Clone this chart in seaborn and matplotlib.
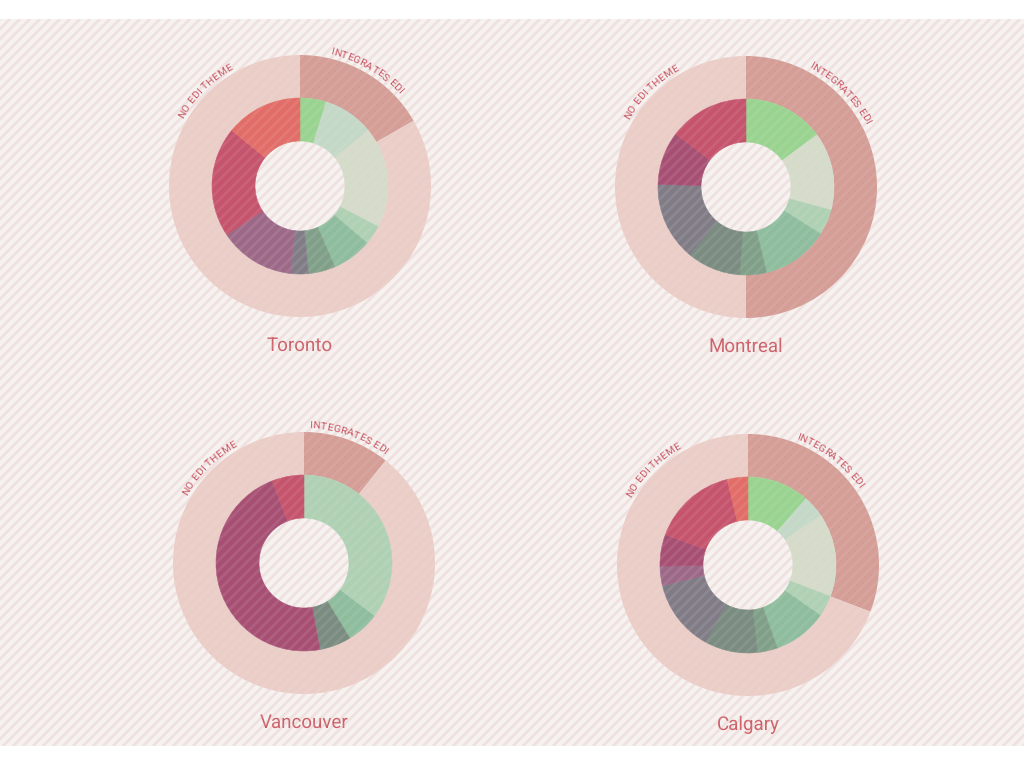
import numpy as np
import matplotlib
matplotlib.use("Agg")
import matplotlib.pyplot as plt
from matplotlib.collections import LineCollection
from matplotlib.font_manager import FontProperties, findfont
from matplotlib.ft2font import FT2Font
import seaborn as sns

# ---- data ----
cities = ["Toronto", "Montreal", "Vancouver", "Calgary"]
ring_labels = ["INTEGRATES EDI", "NO EDI THEME"]
edi_share = [16.7, 50.0, 10.7, 30.8]   # % of plans integrating EDI

themes = ["Theme 1", "Theme 2", "Theme 3", "Theme 4", "Theme 5", "Theme 6",
          "Theme 7", "Theme 8", "Theme 9", "Theme 10", "Theme 11", "Theme 12"]
toronto_mix = [4.8, 9.3, 18.5, 3.6, 7.3, 4.9, 0, 3.3, 13.9, 0, 20.2, 14.1]
montreal_mix = [14.9, 0, 14.3, 4.7, 12.3, 4.9, 9.9, 14.4, 0, 9.8, 14.7, 0]
vancouver_mix = [0, 0, 0, 35.3, 6.0, 0, 5.8, 0, 0, 47.0, 5.9, 0]
calgary_mix = [11.4, 4.1, 15.3, 3.9, 9.9, 3.7, 9.7, 13.2, 3.6, 5.8, 15.6, 3.8]
mixes = [toronto_mix, montreal_mix, vancouver_mix, calgary_mix]

# ---- style ----
sns.set_theme(style="white")
plt.rcParams["font.family"] = ["Roboto", "DejaVu Sans"]
plt.rcParams["text.hinting"] = "none"

theme_pal = sns.color_palette(["#98d48f", "#c3d8c7", "#d5dbc9", "#afd1b3",
                               "#8dbd9c", "#7f9f88", "#7a8b80", "#807c86",
                               "#9c6887", "#a64f73", "#c5536c", "#e26c67"])
ring_pal = ["#d49d96", "#ebcdc7"]
label_col = "#c9505e"
title_col = "#cd5f68"

# layout: donut centres in pixels, label angle for "INTEGRATES EDI"
centres = [(300, 186), (746, 187), (304, 563), (748, 565)]
edi_label_deg = [30, 45, 19.5, 38]
no_label_deg = 315

W, H, DPI = 1024, 768, 100
R_OUT, R_MID, R_IN = 1.31, 0.88, 0.45
BOX = 300  # axes size in px, spans 3 data units
LABEL_PT = 7.5

fig = plt.figure(figsize=(W / DPI, H / DPI), dpi=DPI, facecolor="white")


def stripes(zorder, color, alpha, lw):
    ax = fig.add_axes([0, 22 / H, 1, 727 / H], zorder=zorder)
    ax.set_xlim(0, W)
    ax.set_ylim(0, 727)
    segs = [[(c, 0), (c + 727, 727)] for c in np.arange(-727, W, 10)]
    ax.add_collection(LineCollection(segs, colors=color, alpha=alpha, linewidths=lw))
    ax.axis("off")
    return ax


bg = fig.add_axes([0, 22 / H, 1, 727 / H], zorder=0)
bg.set_facecolor("#f6f2f0")
bg.set_xticks([])
bg.set_yticks([])
for s in bg.spines.values():
    s.set_visible(False)
stripes(1, "#efe0df", 1.0, 2.0)

fp = FontProperties(family="Roboto", size=LABEL_PT)
ft = FT2Font(findfont(fp))   # private instance, only used for measuring
ft.set_size(LABEL_PT, DPI)


def advance(ch):
    g = ft.load_char(ord(ch))
    return g.linearHoriAdvance / 65536.0  # pixels


def arc_text(ax, text, centre_deg, radius, px_per_unit, track=0.2):
    r_px = radius * px_per_unit
    advs = [advance(c) + track for c in text]
    total = sum(advs) - track
    start = np.radians(centre_deg) - total / r_px / 2
    pos = 0.0
    for ch, a in zip(text, advs):
        th = start + (pos + (a - track) / 2) / r_px
        pos += a
        if ch == " ":
            continue
        ax.text(radius * np.sin(th), radius * np.cos(th), ch, fontproperties=fp,
                color=label_col, rotation=-np.degrees(th), rotation_mode="anchor",
                ha="center", va="baseline")


for city, share, mix, (cx, cy), ang in zip(cities, edi_share, mixes, centres, edi_label_deg):
    ax = fig.add_axes([(cx - BOX / 2) / W, (H - cy - BOX / 2) / H, BOX / W, BOX / H], zorder=2)
    ax.pie([share, 100 - share], radius=R_OUT, startangle=90, counterclock=False,
           colors=ring_pal, wedgeprops=dict(width=R_OUT - R_MID, linewidth=0))
    vals = [v for v in mix if v > 0]
    cols = [c for v, c in zip(mix, theme_pal) if v > 0]
    wedges, _ = ax.pie(vals, radius=R_MID, startangle=90, counterclock=False, colors=cols,
                       wedgeprops=dict(width=R_MID - R_IN, linewidth=0.4))
    for w in wedges:
        w.set_edgecolor(w.get_facecolor())
    ax.set_xlim(-1.5, 1.5)
    ax.set_ylim(-1.5, 1.5)
    ax.set_aspect("equal")
    ax.axis("off")
    ppu = BOX / 3
    arc_text(ax, ring_labels[0], ang, R_OUT + 0.04, ppu)
    arc_text(ax, ring_labels[1], no_label_deg, R_OUT + 0.04, ppu)
    ax.text(0, -1.595, city, ha="center", va="center", fontsize=13.5, color=title_col)

# faint stripes over the donuts
stripes(5, "#f6eeee", 0.1, 2.0)

fig.savefig("out.png", dpi=DPI, facecolor="white")
